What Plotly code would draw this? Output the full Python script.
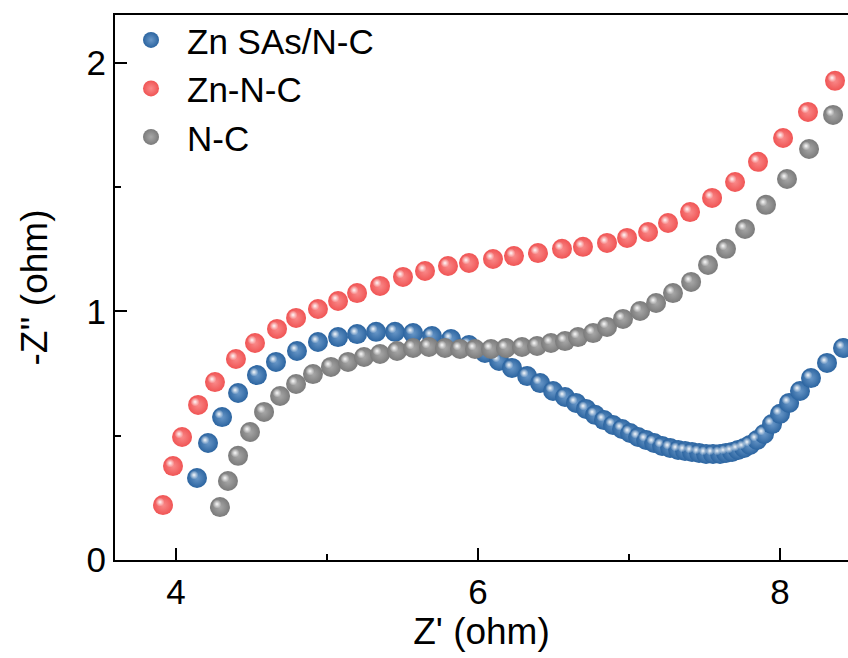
import plotly.graph_objects as go

# ---------------- data ----------------
zn_sas_x = [4.139, 4.212, 4.305, 4.411, 4.536, 4.662, 4.801, 4.940, 5.073, 5.199,
            5.325, 5.450, 5.570, 5.695, 5.821, 5.940, 6.046, 6.139, 6.225, 6.325,
            6.411, 6.497, 6.576, 6.649, 6.715, 6.775, 6.834, 6.894, 6.954, 7.007,
            7.060, 7.113, 7.166, 7.219, 7.272, 7.325, 7.371, 7.417, 7.464, 7.510,
            7.556, 7.603, 7.642, 7.682, 7.722, 7.762, 7.801, 7.848, 7.894, 7.947,
            8.000, 8.060, 8.132, 8.205, 8.311, 8.417]
zn_sas_y = [0.330, 0.471, 0.575, 0.672, 0.744, 0.797, 0.841, 0.877, 0.897, 0.909,
            0.918, 0.918, 0.913, 0.901, 0.889, 0.865, 0.833, 0.801, 0.773, 0.740,
            0.712, 0.680, 0.656, 0.632, 0.608, 0.584, 0.563, 0.543, 0.527, 0.511,
            0.495, 0.483, 0.471, 0.459, 0.451, 0.443, 0.439, 0.435, 0.431, 0.427,
            0.427, 0.427, 0.431, 0.435, 0.443, 0.451, 0.463, 0.483, 0.507, 0.547,
            0.588, 0.632, 0.680, 0.732, 0.793, 0.853]

zn_nc_x = [3.914, 3.980, 4.040, 4.146, 4.258, 4.397, 4.523, 4.669, 4.795, 4.940,
           5.073, 5.199, 5.351, 5.503, 5.649, 5.801, 5.940, 6.099, 6.238, 6.397,
           6.556, 6.695, 6.854, 6.987, 7.126, 7.258, 7.404, 7.550, 7.702, 7.854,
           8.020, 8.185, 8.364]
zn_nc_y = [0.221, 0.378, 0.495, 0.624, 0.716, 0.809, 0.873, 0.930, 0.974, 1.010,
           1.042, 1.074, 1.103, 1.139, 1.163, 1.183, 1.195, 1.211, 1.223, 1.235,
           1.252, 1.260, 1.276, 1.296, 1.320, 1.356, 1.400, 1.457, 1.521, 1.602,
           1.698, 1.803, 1.928]

nc_x = [4.291, 4.344, 4.411, 4.490, 4.583, 4.689, 4.795, 4.907, 5.026, 5.139,
        5.245, 5.351, 5.464, 5.570, 5.675, 5.781, 5.881, 5.980, 6.086, 6.185,
        6.291, 6.391, 6.483, 6.576, 6.662, 6.762, 6.854, 6.960, 7.073, 7.179,
        7.291, 7.411, 7.523, 7.642, 7.768, 7.907, 8.046, 8.192, 8.351]
nc_y = [0.213, 0.318, 0.419, 0.515, 0.596, 0.660, 0.708, 0.748, 0.777, 0.797,
        0.817, 0.829, 0.841, 0.853, 0.857, 0.853, 0.849, 0.849, 0.849, 0.853,
        0.857, 0.861, 0.873, 0.881, 0.897, 0.913, 0.938, 0.970, 1.002, 1.034,
        1.074, 1.119, 1.187, 1.252, 1.332, 1.429, 1.533, 1.654, 1.791]

series_names = ["Zn SAs/N-C", "Zn-N-C", "N-C"]
series_x = [zn_sas_x, zn_nc_x, nc_x]
series_y = [zn_sas_y, zn_nc_y, nc_y]
series_colors = ["#2b64a0", "#f05454", "#7a7a7a"]
series_centers = ["#6a98c8", "#f98a8a", "#a8a8a8"]

x_tick_vals = [4, 6, 8]
y_tick_vals = [0, 1, 2]

# ---------------- layout geometry ----------------
W, H = 848, 658
ML, MR, MT, MB = 115, 0, 15, 98
X_RANGE = [3.596, 8.45]
Y_RANGE = [0.0, 2.193]
px_per_x = (W - ML - MR) / (X_RANGE[1] - X_RANGE[0])
px_per_y = (H - MT - MB) / (Y_RANGE[1] - Y_RANGE[0])
HL_DX = -3.0 / px_per_x   # highlight shift (3 px left)
HL_DY = 3.0 / px_per_y    # highlight shift (3 px up)

FONT = "Arial, Liberation Sans, Arimo, sans-serif"
MSIZE = 20
TICK_FS = 35
TITLE_FS = 37
LEGEND_FS = 35

fig = go.Figure()
for i, (name, xs, ys, col, cen) in enumerate(
        zip(series_names, series_x, series_y, series_colors, series_centers)):
    fig.add_trace(go.Scatter(
        x=xs, y=ys, mode="markers", name=name, legendgroup=name,
        marker=dict(size=MSIZE, color=col, line=dict(width=0),
                    gradient=dict(type="radial", color=cen)),
    ))
    fig.add_trace(go.Scatter(
        x=[v + HL_DX for v in xs], y=[v + HL_DY for v in ys],
        mode="markers", showlegend=False, legendgroup=name, hoverinfo="skip",
        marker=dict(size=9, color="rgba(255,255,255,0)", line=dict(width=0),
                    gradient=dict(type="radial", color="rgba(255,255,255,0.95)")),
    ))

axis_common = dict(
    showgrid=False, zeroline=False, showline=True, linecolor="black", linewidth=2,
    ticks="inside", ticklen=12, tickwidth=2, tickcolor="black",
    tickfont=dict(family=FONT, size=TICK_FS, color="black"),
)

fig.update_layout(
    width=W, height=H,
    margin=dict(l=ML, r=MR, t=MT, b=MB),
    paper_bgcolor="white", plot_bgcolor="white",
    font=dict(family=FONT, color="black"),
    showlegend=True,
    legend=dict(x=0.0, y=1.008, xanchor="left", yanchor="top",
                font=dict(family=FONT, size=LEGEND_FS, color="black"),
                bgcolor="rgba(0,0,0,0)", tracegroupgap=0, itemwidth=62),
    xaxis=dict(range=X_RANGE, tickvals=x_tick_vals, mirror=True,
               minor=dict(dtick=1, tick0=0, ticks="inside", ticklen=6, tickwidth=2,
                          tickcolor="black"),
               title=dict(text="Z' (ohm)", font=dict(family=FONT, size=TITLE_FS), standoff=4),
               **axis_common),
    yaxis=dict(range=Y_RANGE, tickvals=y_tick_vals,
               minor=dict(dtick=0.5, tick0=0, ticks="inside", ticklen=6, tickwidth=2,
                          tickcolor="black"),
               title=dict(text="-Z'' (ohm)", font=dict(family=FONT, size=TITLE_FS), standoff=28),
               **axis_common),
)

fig.write_html("out.html")
